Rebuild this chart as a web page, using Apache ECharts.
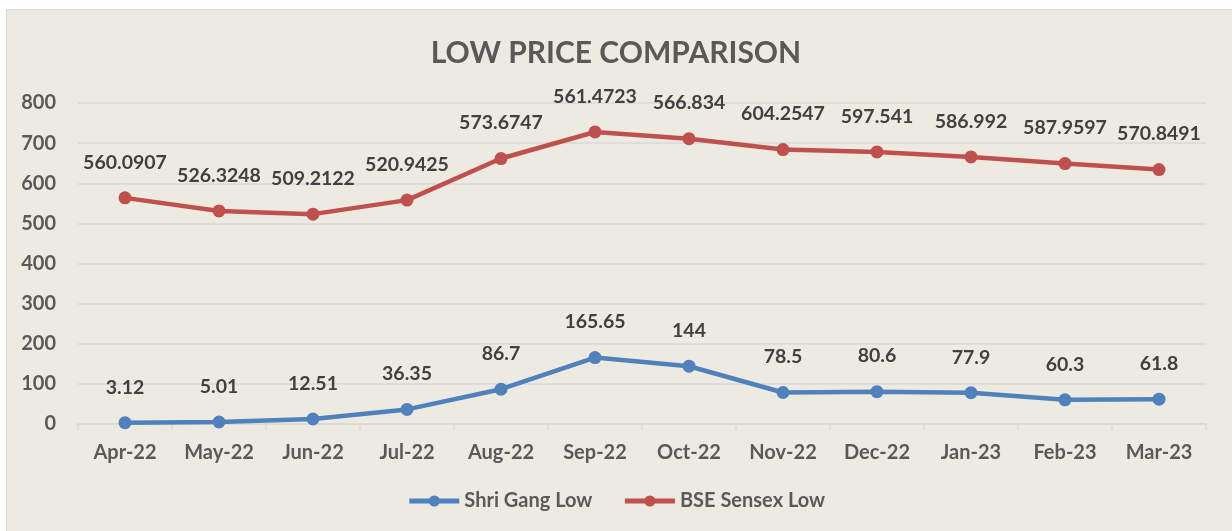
<!DOCTYPE html>
<html lang="en">
<head>
    <meta charset="UTF-8">
    <title>Low Price Comparison</title>
    <script src="https://cdn.jsdelivr.net/npm/echarts@6/dist/echarts.min.js"></script>
    <style>
        html, body { margin: 0; padding: 0; background: #ffffff; }
    </style>
</head>
<body>
    <div id="container" style="width: 1232px;height: 531px"></div>

    <script>
        // categories
        var months = ['Apr-22', 'May-22', 'Jun-22', 'Jul-22', 'Aug-22', 'Sep-22', 'Oct-22', 'Nov-22', 'Dec-22', 'Jan-23', 'Feb-23', 'Mar-23'];
        // Shri Gang Low
        var shriGangLow = [3.12, 5.01, 12.51, 36.35, 86.7, 165.65, 144, 78.5, 80.6, 77.9, 60.3, 61.8];
        // BSE Sensex Low - plotted positions
        var sensexLow = [563.6, 531, 523, 558, 661.6, 727.8, 711, 684, 678, 665.6, 649, 634];
        // BSE Sensex Low - labels as printed
        var sensexLabels = ['560.0907', '526.3248', '509.2122', '520.9425', '573.6747', '561.4723', '566.834', '604.2547', '597.541', '586.992', '587.9597', '570.8491'];
        // y axis ticks
        var yMin = 0, yMax = 800, yStep = 100;

        var textColor = '#595959';
        var labelColor = '#404040';
        var fontFamily = 'Lato, "Open Sans", sans-serif';

        var myChart = echarts.init(document.getElementById('container'));

        myChart.setOption({
            backgroundColor: '#ffffff',
            animation: false,
            textStyle: { fontFamily: fontFamily },
            // chart area frame
            graphic: [{
                type: 'rect',
                z: -10,
                silent: true,
                shape: { x: 6.5, y: 9.5, width: 1240, height: 540 },
                style: { fill: '#edebe1', stroke: '#d9d9d9', lineWidth: 1 }
            }],
            title: {
                text: 'LOW PRICE COMPARISON',
                left: 'center',
                top: 33,
                textStyle: { color: textColor, fontSize: 30, fontWeight: 'bold', fontFamily: fontFamily }
            },
            legend: {
                bottom: 15,
                left: 'center',
                itemWidth: 50,
                itemHeight: 14,
                itemGap: 30,
                lineStyle: { width: 5 },
                textStyle: { color: textColor, fontSize: 20, fontWeight: 'bold', fontFamily: fontFamily },
                data: ['Shri Gang Low', 'BSE Sensex Low']
            },
            grid: { left: 78, right: 26, top: 103, bottom: 107 },
            xAxis: {
                type: 'category',
                data: months,
                boundaryGap: true,
                axisLine: { lineStyle: { color: '#d9d9d9', width: 1.5 } },
                axisTick: { show: true, length: 6, lineStyle: { color: '#d9d9d9', width: 1.5 } },
                axisLabel: { color: textColor, fontSize: 20, fontWeight: 'bold', margin: 19, fontFamily: fontFamily }
            },
            yAxis: {
                type: 'value',
                min: yMin,
                max: yMax,
                interval: yStep,
                axisLine: { show: false },
                axisTick: { show: false },
                splitLine: { lineStyle: { color: '#d9d9d9', width: 1.5 } },
                axisLabel: { color: textColor, fontSize: 20, fontWeight: 'bold', margin: 22, fontFamily: fontFamily }
            },
            series: [{
                name: 'Shri Gang Low',
                type: 'line',
                data: shriGangLow,
                symbol: 'circle',
                symbolSize: 13,
                itemStyle: { color: '#4f81bd' },
                lineStyle: { color: '#4f81bd', width: 4.5 },
                label: {
                    show: true,
                    position: 'top',
                    distance: 19,
                    color: labelColor,
                    fontSize: 19.5,
                    fontWeight: 'bold',
                    fontFamily: fontFamily
                }
            }, {
                name: 'BSE Sensex Low',
                type: 'line',
                data: sensexLow,
                symbol: 'circle',
                symbolSize: 13,
                itemStyle: { color: '#c0504d' },
                lineStyle: { color: '#c0504d', width: 4.5 },
                label: {
                    show: true,
                    position: 'top',
                    distance: 19,
                    color: labelColor,
                    fontSize: 19.5,
                    fontWeight: 'bold',
                    fontFamily: fontFamily,
                    formatter: function (p) {
                        return sensexLabels[p.dataIndex];
                    }
                }
            }]
        });
    </script>
</body>
</html>
